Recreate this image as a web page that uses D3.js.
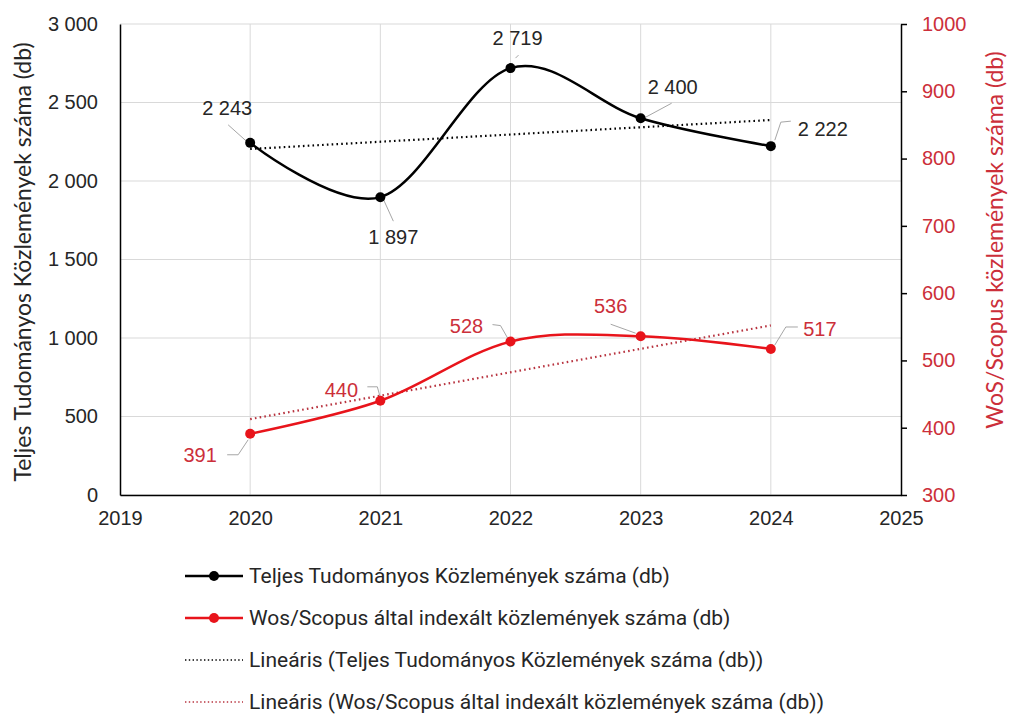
<!DOCTYPE html>
<html>
<head>
<meta charset="utf-8">
<script src="https://cdn.jsdelivr.net/npm/d3@7"></script>
<style>
  html, body { margin: 0; padding: 0; background: #fff; }
  svg { display: block; }
</style>
</head>
<body>
<svg id="chart" width="1013" height="717"></svg>
<script>
// ---- data ----
const years = [2020, 2021, 2022, 2023, 2024];
const totalPubs = [2243, 1897, 2719, 2400, 2222];
const wosPubs = [391, 440, 528, 536, 517];
const xTicks = [2019, 2020, 2021, 2022, 2023, 2024, 2025];
const leftTicks = [0, 500, 1000, 1500, 2000, 2500, 3000];
const rightTicks = [300, 400, 500, 600, 700, 800, 900, 1000];
const leftTitle = "Teljes Tudományos Közlemények száma (db)";
const rightTitle = "WoS/Scopus közlemények száma (db)";
const legendLabels = [
  "Teljes Tudományos Közlemények száma (db)",
  "Wos/Scopus által indexált közlemények száma (db)",
  "Lineáris (Teljes Tudományos Közlemények száma (db))",
  "Lineáris (Wos/Scopus által indexált közlemények száma (db))"
];

// ---- layout (label offsets relative to points, in px) ----
const totalLabelOff = [[-23, -35], [13, 40], [7, -30], [32, -31], [52, -17]];
const totalLeader = [[[-22, -18], [-3, -1]], [[3, 2], [13, 24]], [[5, -10], [8, -13]], [[31, -15], [5, -1]], [[20, -25], [10, -24], [4, -6]]];
const wosLabelOff = [[-50, 21], [-39, -11], [-44, -16], [-30, -30], [49, -20]];
const wosLeader = [[[-23, 21], [-12, 21], [-2, 6]], [[-13, -14], [-3, -14], [0, -3]], [[-18, -17], [-10, -16], [-2, -2]], [[-30, -12], [-5, -3]], [[27, -22], [15, -22], [4, -4]]];

const RED = "#e8141b";
const RED_TXT = "#cc2f3a";
const RED_TREND = "#b8333f";

const svg = d3.select("#chart");
const L = 120, R = 901, T = 24, B = 495;

const x = d3.scaleLinear().domain([2019, 2025]).range([L, R]);
const yL = d3.scaleLinear().domain([0, 3000]).range([B, T]);
const yR = d3.scaleLinear().domain([300, 1000]).range([B, T]);

const fmtLabel = v => d3.format(",")(v).replace(/,/g, " ");

// gridlines
svg.append("g").selectAll("line.h").data(leftTicks).join("line")
  .attr("x1", L).attr("x2", R).attr("y1", d => yL(d)).attr("y2", d => yL(d))
  .attr("stroke", "#d9d9d9").attr("stroke-width", 1);
svg.append("g").selectAll("line.v").data(xTicks.slice(1, -1)).join("line")
  .attr("x1", d => x(d)).attr("x2", d => x(d)).attr("y1", T).attr("y2", B)
  .attr("stroke", "#d9d9d9").attr("stroke-width", 1);

// axes
const leftAxis = d3.axisLeft(yL).tickValues(leftTicks).tickSize(0).tickPadding(22)
  .tickFormat(d => fmtLabel(d));
const gL = svg.append("g").attr("transform", `translate(${L},0)`).call(leftAxis);
gL.select(".domain").attr("stroke", "#000").attr("stroke-width", 1.5);
gL.selectAll("text").attr("font-family", "Liberation Sans, Arial, sans-serif")
  .attr("font-size", 20).attr("fill", "#262626");

const rightAxis = d3.axisRight(yR).tickValues(rightTicks).tickSize(6).tickSizeOuter(0).tickPadding(15)
  .tickFormat(d3.format("d"));
const gR = svg.append("g").attr("transform", `translate(${R},0)`).call(rightAxis);
gR.select(".domain").attr("stroke", "#000").attr("stroke-width", 1.5);
gR.selectAll(".tick line").attr("stroke", "#000").attr("stroke-width", 1.5);
gR.selectAll("text").attr("font-family", "Liberation Sans, Arial, sans-serif")
  .attr("font-size", 20).attr("fill", RED_TXT);

const bottomAxis = d3.axisBottom(x).tickValues(xTicks).tickSize(0).tickPadding(16)
  .tickFormat(d3.format("d"));
const gB = svg.append("g").attr("transform", `translate(0,${B})`).call(bottomAxis);
gB.select(".domain").attr("stroke", "#000").attr("stroke-width", 1.5);
gB.selectAll("text").attr("font-family", "Liberation Sans, Arial, sans-serif")
  .attr("font-size", 20).attr("fill", "#262626");

// axis titles
svg.append("text")
  .attr("transform", `translate(31,262) rotate(-90)`)
  .attr("text-anchor", "middle")
  .attr("font-family", "Lato, sans-serif").attr("font-size", 23).attr("fill", "#262626")
  .text(leftTitle);
svg.append("text")
  .attr("transform", `translate(1003,240) rotate(-90)`)
  .attr("text-anchor", "middle")
  .attr("font-family", "Lato, sans-serif").attr("font-size", 23).attr("fill", RED_TXT)
  .text(rightTitle);

// linear trend (least squares on the series)
function linFit(xs, ys) {
  const n = xs.length, mx = d3.mean(xs), my = d3.mean(ys);
  let sxy = 0, sxx = 0;
  for (let i = 0; i < n; i++) { sxy += (xs[i] - mx) * (ys[i] - my); sxx += (xs[i] - mx) ** 2; }
  const b = sxy / sxx, a = my - b * mx;
  return [[xs[0], a + b * xs[0]], [xs[n - 1], a + b * xs[n - 1]]];
}
const trendT = linFit(years, totalPubs);
const trendW = linFit(years, wosPubs);

svg.append("line")
  .attr("x1", x(trendT[0][0])).attr("y1", yL(trendT[0][1]))
  .attr("x2", x(trendT[1][0])).attr("y2", yL(trendT[1][1]))
  .attr("stroke", "#000").attr("stroke-width", 2.2).attr("stroke-dasharray", "1.6,3.2");
svg.append("line")
  .attr("x1", x(trendW[0][0])).attr("y1", yR(trendW[0][1]))
  .attr("x2", x(trendW[1][0])).attr("y2", yR(trendW[1][1]))
  .attr("stroke", RED_TREND).attr("stroke-width", 2.2).attr("stroke-dasharray", "1.6,3.2");

// series
const curve = d3.curveCardinal.tension(0);
const lineT = d3.line().x((d, i) => x(years[i])).y(d => yL(d)).curve(curve);
const lineW = d3.line().x((d, i) => x(years[i])).y(d => yR(d)).curve(curve);

svg.append("path").attr("d", lineT(totalPubs)).attr("fill", "none")
  .attr("stroke", "#000").attr("stroke-width", 2.5);
svg.append("path").attr("d", lineW(wosPubs)).attr("fill", "none")
  .attr("stroke", RED).attr("stroke-width", 2.5);

// leader lines
function leaders(vals, ys, legs) {
  vals.forEach((v, i) => {
    const px = x(years[i]), py = ys(v);
    const pts = legs[i].map(p => [px + p[0], py + p[1]]);
    svg.append("path").attr("d", d3.line()(pts)).attr("fill", "none")
      .attr("stroke", "#a6a6a6").attr("stroke-width", 1);
  });
}
leaders(totalPubs, yL, totalLeader);
leaders(wosPubs, yR, wosLeader);

// markers
svg.append("g").selectAll("circle").data(totalPubs).join("circle")
  .attr("cx", (d, i) => x(years[i])).attr("cy", d => yL(d)).attr("r", 5)
  .attr("fill", "#000");
svg.append("g").selectAll("circle").data(wosPubs).join("circle")
  .attr("cx", (d, i) => x(years[i])).attr("cy", d => yR(d)).attr("r", 5)
  .attr("fill", RED);

// data labels
svg.append("g").selectAll("text").data(totalPubs).join("text")
  .attr("x", (d, i) => x(years[i]) + totalLabelOff[i][0])
  .attr("y", (d, i) => yL(d) + totalLabelOff[i][1])
  .attr("text-anchor", "middle").attr("dominant-baseline", "central")
  .attr("font-family", "Liberation Sans, Arial, sans-serif").attr("font-size", 20)
  .attr("fill", "#262626")
  .text(d => fmtLabel(d));
svg.append("g").selectAll("text").data(wosPubs).join("text")
  .attr("x", (d, i) => x(years[i]) + wosLabelOff[i][0])
  .attr("y", (d, i) => yR(d) + wosLabelOff[i][1])
  .attr("text-anchor", "middle").attr("dominant-baseline", "central")
  .attr("font-family", "Liberation Sans, Arial, sans-serif").attr("font-size", 20)
  .attr("fill", RED_TXT)
  .text(d => d);

// legend
const legY0 = 576, legDY = 42;
const legStyles = [
  { color: "#000", dash: null, marker: true },
  { color: RED, dash: null, marker: true },
  { color: "#000", dash: "1.4,2.4", marker: false },
  { color: RED_TREND, dash: "1.4,2.4", marker: false }
];
legendLabels.forEach((lab, i) => {
  const yy = legY0 + i * legDY;
  const s = legStyles[i];
  const ln = svg.append("line").attr("x1", 185).attr("x2", 243).attr("y1", yy).attr("y2", yy)
    .attr("stroke", s.color).attr("stroke-width", s.dash ? 1.6 : 2.5);
  if (s.dash) ln.attr("stroke-dasharray", s.dash);
  if (s.marker) svg.append("circle").attr("cx", 214).attr("cy", yy).attr("r", 5).attr("fill", s.color);
  svg.append("text").attr("x", 249).attr("y", yy).attr("dominant-baseline", "central")
    .attr("font-family", "Roboto, sans-serif").attr("font-size", 21).attr("fill", "#262626")
    .text(lab);
});
</script>
</body>
</html>
